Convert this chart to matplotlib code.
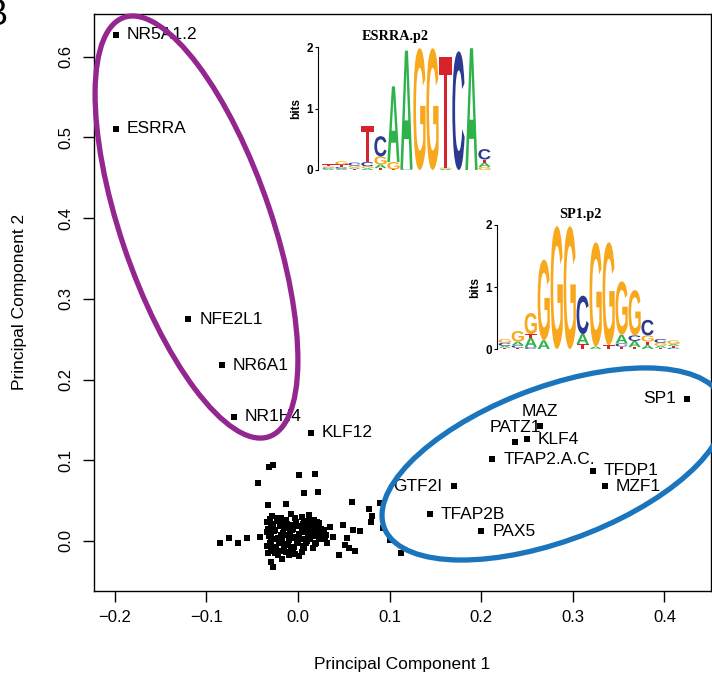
import numpy as np
import matplotlib.pyplot as plt
from matplotlib.patches import Ellipse, PathPatch
from matplotlib.textpath import TextPath
from matplotlib.font_manager import FontProperties
from matplotlib.transforms import Affine2D

plt.rcParams['font.family'] = ['Liberation Sans', 'DejaVu Sans']

# factores con etiqueta
nombres = ['NR5A1.2', 'ESRRA', 'NFE2L1', 'NR6A1', 'NR1H4', 'KLF12', 'SP1',
           'MAZ', 'PATZ1', 'KLF4', 'TFAP2.A.C.', 'TFDP1', 'MZF1', 'GTF2I',
           'TFAP2B', 'PAX5']
pc1 = [-0.199, -0.199, -0.120, -0.083, -0.070, 0.014, 0.425,
       0.264, 0.237, 0.250, 0.212, 0.322, 0.335, 0.170,
       0.144, 0.200]
pc2 = [0.627, 0.511, 0.275, 0.218, 0.154, 0.134, 0.176,
       0.142, 0.123, 0.126, 0.101, 0.087, 0.068, 0.068,
       0.033, 0.012]
lado = ['r', 'r', 'r', 'r', 'r', 'r', 'l',
        't', 't', 'r', 'r', 'r', 'r', 'l',
        'r', 'r']

# resto de factores (sin etiqueta)
nube_x = [-0.085, -0.075, -0.066, -0.056, -0.041, -0.044, -0.032, -0.027,
          -0.033, -0.013, 0.001, 0.019, 0.007, 0.022, 0.059, 0.078,
          0.081, 0.080, 0.090, 0.093, 0.100, 0.112, 0.049, 0.035,
          0.060, 0.068, 0.038, 0.053, 0.051, 0.056, 0.062, 0.045,
          0.032, 0.027, 0.021, 0.012, 0.001, -0.027, -0.029, -0.033,
          -0.017,
          -0.028, -0.018, -0.008, 0.004, 0.012,
          -0.034, -0.022, -0.012, -0.002, 0.008, 0.016,
          -0.030, -0.020, -0.010, 0.000, 0.010, 0.020, 0.028,
          -0.034, -0.026, -0.016, -0.006, 0.004, 0.014, 0.024,
          -0.032, -0.022, -0.012, -0.002, 0.008, 0.018, 0.030,
          -0.030, -0.020, -0.010, 0.000, 0.010, 0.020,
          -0.034, -0.024, -0.014, -0.004, 0.006, 0.016,
          -0.030, -0.018, -0.008, 0.004,
          -0.022, -0.010,
          -0.031, -0.023, -0.013, -0.003, 0.007, 0.017,
          -0.027, -0.015, -0.005, 0.005, 0.013, 0.023,
          -0.033, -0.025, -0.015, -0.005, 0.005, 0.015, 0.025,
          -0.029, -0.019, -0.009, 0.001, 0.011, 0.021, 0.031,
          -0.027, -0.017, -0.007, 0.003, 0.013, 0.023,
          -0.031, -0.021, -0.011, -0.001, 0.009, 0.019,
          -0.027, -0.015, -0.005, 0.007,
          -0.025, -0.013, -0.003]
nube_y = [-0.002, 0.004, -0.002, 0.004, 0.005, 0.072, 0.092, 0.094,
          0.045, 0.046, 0.082, 0.083, 0.059, 0.061, 0.048, 0.040,
          0.031, 0.024, 0.047, 0.016, 0.001, -0.015, 0.020, 0.017,
          0.014, 0.012, 0.005, 0.004, -0.005, -0.009, -0.012, -0.017,
          -0.002, 0.011, 0.024, 0.032, -0.019, -0.032, -0.026, -0.015,
          -0.022,
          0.031, 0.029, 0.033, 0.030, 0.027,
          0.023, 0.025, 0.021, 0.024, 0.022, 0.019,
          0.017, 0.019, 0.016, 0.018, 0.015, 0.017, 0.013,
          0.011, 0.012, 0.010, 0.013, 0.011, 0.009, 0.007,
          0.006, 0.004, 0.007, 0.005, 0.003, 0.006, 0.002,
          0.000, -0.001, 0.001, -0.002, 0.000, -0.003,
          -0.006, -0.007, -0.005, -0.008, -0.006, -0.009,
          -0.012, -0.013, -0.011, -0.014,
          -0.018, -0.017,
          0.027, 0.028, 0.026, 0.028, 0.025, 0.026,
          0.021, 0.022, 0.020, 0.021, 0.020, 0.022,
          0.015, 0.014, 0.016, 0.015, 0.014, 0.013, 0.015,
          0.009, 0.008, 0.010, 0.009, 0.008, 0.010, 0.008,
          0.003, 0.002, 0.004, 0.003, 0.002, 0.003,
          -0.003, -0.002, -0.004, -0.003, -0.002, -0.004,
          -0.009, -0.008, -0.010, -0.009,
          -0.015, -0.014, -0.016]

# logos (columna: letras de abajo hacia arriba, altura en bits)
esrra_cols = [
    [('A', 0.02), ('C', 0.02), ('G', 0.02), ('T', 0.03)],
    [('A', 0.02), ('C', 0.03), ('T', 0.04), ('G', 0.05)],
    [('T', 0.02), ('A', 0.02), ('G', 0.03), ('C', 0.05)],
    [('A', 0.03), ('G', 0.03), ('C', 0.07), ('T', 0.58)],
    [('T', 0.03), ('A', 0.06), ('G', 0.13), ('C', 0.33)],
    [('T', 0.01), ('G', 0.12), ('A', 1.23)],
    [('C', 0.01), ('A', 1.93)],
    [('G', 1.98)],
    [('G', 1.98)],
    [('A', 0.02), ('G', 0.02), ('T', 1.80)],
    [('C', 1.93)],
    [('A', 1.98)],
    [('G', 0.05), ('A', 0.07), ('T', 0.05), ('C', 0.17)],
]
sp1_cols = [
    [('T', 0.02), ('A', 0.03), ('C', 0.05), ('G', 0.06)],
    [('T', 0.02), ('C', 0.04), ('A', 0.06), ('G', 0.17)],
    [('C', 0.03), ('A', 0.15), ('T', 0.06), ('G', 0.34)],
    [('A', 0.14), ('G', 1.30)],
    [('G', 1.98)],
    [('G', 1.98)],
    [('T', 0.08), ('A', 0.16), ('C', 0.62)],
    [('A', 0.04), ('G', 1.68)],
    [('T', 0.06), ('G', 1.66)],
    [('T', 0.04), ('C', 0.05), ('A', 0.14), ('G', 0.86)],
    [('T', 0.03), ('A', 0.10), ('C', 0.09), ('G', 0.73)],
    [('A', 0.06), ('T', 0.06), ('G', 0.10), ('C', 0.25)],
    [('T', 0.02), ('A', 0.03), ('G', 0.05), ('C', 0.06)],
    [('C', 0.02), ('T', 0.03), ('A', 0.03), ('G', 0.06)],
]

colores_base = {'A': '#2DB34A', 'C': '#2B3990', 'G': '#F8A81C', 'T': '#D7232B'}
W, H = 712, 677


def px_ax(izq, der, arriba, abajo):
    return [izq / W, 1 - abajo / H, (der - izq) / W, (abajo - arriba) / H]


def dibujar_logo(ax, columnas, titulo, x_titulo, x0):
    fp = FontProperties(family='Liberation Sans', weight='bold')
    for i, col in enumerate(columnas):
        base = 0.0
        for letra, alto in col:
            tp = TextPath((0, 0), letra, size=1, prop=fp)
            ext = tp.get_extents()
            tr = (Affine2D().translate(-ext.x0, -ext.y0)
                  .scale(0.94 / ext.width, alto / ext.height)
                  .translate(i + 0.03, base))
            ax.add_patch(PathPatch(tr.transform_path(tp),
                                   fc=colores_base[letra], lw=0))
            base += alto
    ax.set_xlim(x0, len(columnas))
    ax.set_ylim(0, 2)
    ax.patch.set_alpha(0)
    for s in ['top', 'right', 'bottom']:
        ax.spines[s].set_visible(False)
    ax.spines['left'].set_linewidth(0.8)
    ax.set_xticks([])
    ax.set_yticks([0, 1, 2])
    ax.set_yticklabels(['0', '1', '2'], fontweight='bold', fontsize=8.5)
    ax.tick_params(axis='y', length=2.5, width=0.8, pad=1)
    ax.set_ylabel('bits', fontweight='bold', fontsize=8.5, labelpad=3)
    ax.annotate(titulo, xy=(x_titulo, 2), xytext=(0, 3),
                textcoords='offset points', ha='center', va='bottom',
                fontsize=10.3, fontweight='bold',
                family=['Liberation Serif', 'DejaVu Serif'])


fig = plt.figure(figsize=(W / 100, H / 100), dpi=100)
ax = fig.add_axes(px_ax(94, 711, 14, 591))

ax.scatter(nube_x, nube_y, marker='s', s=22, c='black', lw=0, zorder=3)
ax.scatter(pc1, pc2, marker='s', s=20, c='black', lw=0, zorder=3)

for nom, x, y, p in zip(nombres, pc1, pc2, lado):
    if p == 'r':
        off, ha, va = (8, 0), 'left', 'center'
    elif p == 'l':
        off, ha, va = (-8, 0), 'right', 'center'
    else:
        off, ha, va = (0, 5), 'center', 'bottom'
    ax.annotate(nom, xy=(x, y), xytext=off, textcoords='offset points',
                ha=ha, va=va, fontsize=12.5, zorder=4)

# elipses de grupos
ax.add_patch(Ellipse((-0.1108, 0.389), 0.5433, 0.1656, angle=106.5,
                     fill=False, ec='#93278F', lw=3.8, zorder=5, clip_on=False))
ax.add_patch(Ellipse((0.2789, 0.0954), 0.4022, 0.1872, angle=24.4,
                     fill=False, ec='#1B75BC', lw=3.8, zorder=5, clip_on=False))

ax.set_xlim(-0.2227, 0.4509)
ax.set_ylim(-0.062, 0.653)
ax.set_xticks(np.arange(-0.2, 0.41, 0.1))
ax.set_xticklabels(['\u22120.2', '\u22120.1', '0.0', '0.1', '0.2', '0.3', '0.4'])
ax.set_yticks(np.arange(0.0, 0.61, 0.1))
ax.set_yticklabels(['0.0', '0.1', '0.2', '0.3', '0.4', '0.5', '0.6'],
                   rotation=90, va='center')
ax.tick_params(axis='both', length=8, width=1, labelsize=12)
ax.tick_params(axis='x', pad=6)
ax.tick_params(axis='y', pad=7)
for s in ax.spines.values():
    s.set_linewidth(1)

fig.text((94 + 711) / 2 / W, 1 - 664 / H, 'Principal Component 1',
         ha='center', va='center', fontsize=12.5)
fig.text(20 / W, 1 - 302 / H, 'Principal Component 2', rotation=90,
         ha='center', va='center', fontsize=12.5)
fig.text(8 / W, 1 - 25 / H, 'B', ha='right', va='baseline', fontsize=26)

# logos de motivos
ax1 = fig.add_axes(px_ax(318, 491, 47, 170))
dibujar_logo(ax1, esrra_cols, 'ESRRA.p2', 5.6, -0.3)
ax2 = fig.add_axes(px_ax(497, 680, 225, 349))
dibujar_logo(ax2, sp1_cols, 'SP1.p2', 6.3, -0.1)

fig.savefig('out.png', dpi=100)
